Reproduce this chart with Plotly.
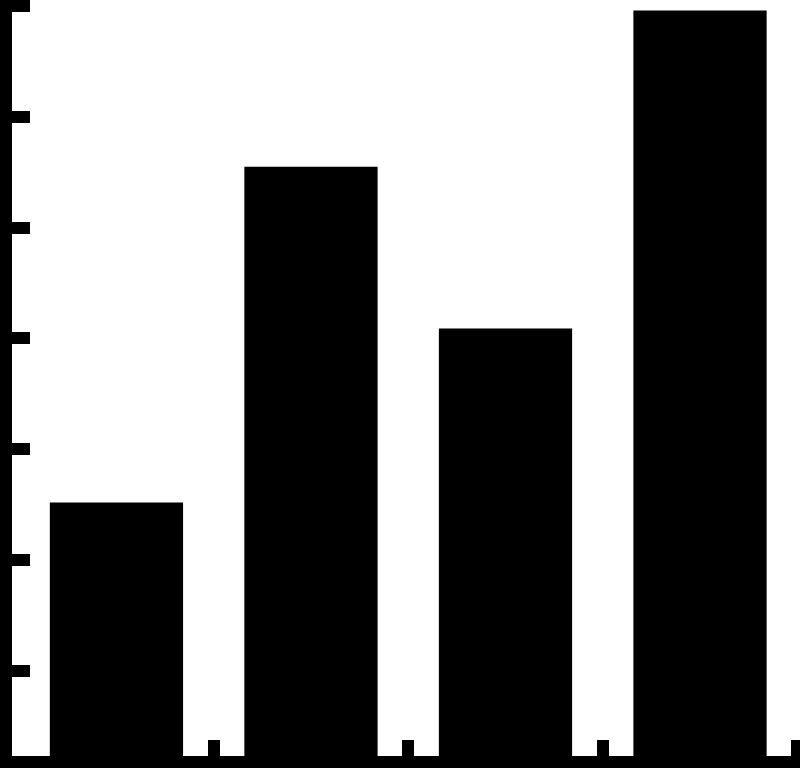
import plotly.graph_objects as go

# category names are not shown in the picture, only their boundaries
categories = ["A", "B", "C", "D"]
values = [2.52, 5.55, 4.09, 6.96]

positions = list(range(len(categories)))
boundaries = [p + 0.5 for p in positions]

fig = go.Figure(
    go.Bar(
        x=positions,
        y=values,
        width=0.685,
        marker=dict(color="black", line=dict(width=0)),
        hovertext=categories,
    )
)

fig.update_layout(
    width=800,
    height=768,
    margin=dict(l=12, r=0, t=0, b=12),
    paper_bgcolor="white",
    plot_bgcolor="white",
    showlegend=False,
)
fig.update_xaxes(
    range=[-0.537, 3.514],
    tickvals=boundaries,
    showline=True,
    linecolor="black",
    linewidth=12,
    ticks="inside",
    ticklen=16,
    tickwidth=12,
    tickcolor="black",
    showticklabels=False,
    showgrid=False,
    zeroline=False,
)
fig.update_yaxes(
    range=[0.233, 7.054],
    dtick=1,
    tick0=0,
    showline=True,
    linecolor="black",
    linewidth=12,
    ticks="inside",
    ticklen=18,
    tickwidth=12,
    tickcolor="black",
    showticklabels=False,
    showgrid=False,
    zeroline=False,
)

# the page body has a default 8px margin, drop it so the chart sits at 0,0
fig.write_html(
    "out.html",
    config={"displayModeBar": False},
    post_script="document.body.style.margin = '0';",
)
